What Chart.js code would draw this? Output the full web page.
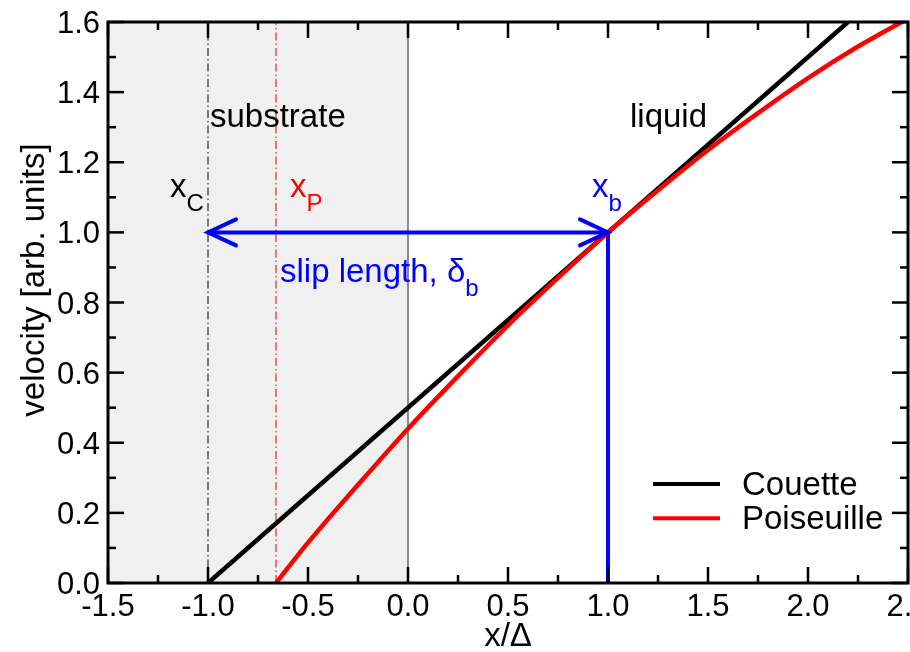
<!DOCTYPE html>
<html>
<head>
<meta charset="utf-8">
<script src="https://cdn.jsdelivr.net/npm/chart.js@4.4.0/dist/chart.umd.min.js"></script>
<style>
  html,body{margin:0;padding:0;background:#fff;}
  canvas{display:block;}
</style>
</head>
<body>
<canvas id="c" width="910" height="652"></canvas>
<script>
// --- Data ---
const couetteX = [-1.0, 2.2];
const couetteY = [0.0, 1.6];
const poisX = [-0.66, -0.5, -0.25, 0.0, 0.25, 0.5, 0.75, 1.0, 1.25, 1.5, 1.75, 2.0, 2.25, 2.5];
const poisY = [0.0, 0.115, 0.28, 0.44, 0.59, 0.735, 0.87, 1.0, 1.12, 1.235, 1.34, 1.44, 1.53, 1.61];
const xC = -1.0, xP = -0.66, xB = 1.0;   // marker positions
const slipY = 1.0;
const xTicks = [-1.5, -1.0, -0.5, 0.0, 0.5, 1.0, 1.5, 2.0, 2.5];
const xMinor = [-1.25, -0.75, -0.25, 0.25, 0.75, 1.25, 1.75, 2.25];
const yTicks = [0.0, 0.2, 0.4, 0.6, 0.8, 1.0, 1.2, 1.4, 1.6];
const yMinor = [0.1, 0.3, 0.5, 0.7, 0.9, 1.1, 1.3, 1.5];
const seriesNames = ['Couette', 'Poiseuille'];

const FONT = '"Liberation Sans", Arial, Helvetica, sans-serif';
const pts = (xs, ys) => xs.map((x, i) => ({x, y: ys[i]}));

// --- Decorations ---
const deco = {
  id: 'deco',
  beforeDatasetsDraw(chart){
    const {ctx, chartArea:a, scales:{x, y}} = chart;
    ctx.save();
    ctx.fillStyle = '#f0f0f0';
    ctx.fillRect(a.left, a.top, x.getPixelForValue(0) - a.left, a.bottom - a.top);
    ctx.strokeStyle = '#666';
    ctx.lineWidth = 1.5;
    ctx.beginPath();
    ctx.moveTo(x.getPixelForValue(0), a.top);
    ctx.lineTo(x.getPixelForValue(0), a.bottom);
    ctx.stroke();
    ctx.restore();
  },
  afterDatasetsDraw(chart){
    const {ctx, chartArea:a, scales:{x, y}} = chart;
    const X = v => x.getPixelForValue(v), Y = v => y.getPixelForValue(v);
    ctx.save();

    // arrowheads
    ctx.strokeStyle = '#0000ff';
    ctx.lineWidth = 4;
    ctx.lineCap = 'round';
    [[X(xC), 1], [X(xB), -1]].forEach(([px, d]) => {
      const py = Y(slipY);
      ctx.beginPath();
      ctx.moveTo(px + d*28, py - 13);
      ctx.lineTo(px, py);
      ctx.lineTo(px + d*28, py + 13);
      ctx.stroke();
    });
    ctx.lineCap = 'butt';

    // frame
    ctx.strokeStyle = '#000';
    ctx.lineWidth = 3;
    ctx.strokeRect(a.left, a.top, a.right - a.left, a.bottom - a.top);

    // ticks (inside, mirrored)
    ctx.lineWidth = 2.5;
    const tick = (x1, y1, x2, y2) => { ctx.beginPath(); ctx.moveTo(x1, y1); ctx.lineTo(x2, y2); ctx.stroke(); };
    xTicks.forEach(v => { const p = X(v); tick(p, a.bottom, p, a.bottom - 16); tick(p, a.top, p, a.top + 16); });
    xMinor.forEach(v => { const p = X(v); tick(p, a.bottom, p, a.bottom - 8); tick(p, a.top, p, a.top + 8); });
    yTicks.forEach(v => { const p = Y(v); tick(a.left, p, a.left + 16, p); tick(a.right, p, a.right - 16, p); });
    yMinor.forEach(v => { const p = Y(v); tick(a.left, p, a.left + 8, p); tick(a.right, p, a.right - 8, p); });

    // tick labels
    ctx.fillStyle = '#000';
    ctx.font = '31px ' + FONT;
    ctx.textBaseline = 'alphabetic';
    ctx.textAlign = 'center';
    xTicks.forEach(v => ctx.fillText(v.toFixed(1), X(v), a.bottom + 33));
    ctx.textAlign = 'right';
    yTicks.forEach(v => ctx.fillText(v.toFixed(1), a.left - 8, Y(v) + 11));

    // axis titles
    ctx.font = '33px ' + FONT;
    ctx.textAlign = 'center';
    ctx.fillText('x/\u0394', X(0.5), 646);
    ctx.save();
    ctx.translate(44, 280);
    ctx.rotate(-Math.PI/2);
    ctx.fillText('velocity [arb. units]', 0, 0);
    ctx.restore();

    // annotations
    ctx.textAlign = 'left';
    const sub = (main, s, px, py, color) => {
      ctx.fillStyle = color;
      ctx.font = '33px ' + FONT;
      ctx.fillText(main, px, py);
      const w = ctx.measureText(main).width;
      ctx.font = '24px ' + FONT;
      ctx.fillText(s, px + w, py + 14);
    };
    ctx.font = '33px ' + FONT;
    ctx.fillStyle = '#000';
    ctx.fillText('substrate', X(-0.99), Y(1.3));
    ctx.fillText('liquid', X(1.11), Y(1.3));
    sub('x', 'C', X(-1.19), Y(1.10), '#000');
    sub('x', 'P', X(-0.59), Y(1.10), '#ff0000');
    sub('x', 'b', X(0.92), Y(1.10), '#0000ff');
    sub('slip length, \u03b4', 'b', X(-0.64), Y(0.858), '#0000ff');

    // legend
    const lg = [['#000', 0.282], ['#ff0000', 0.185]];
    lg.forEach(([c, v], i) => {
      ctx.strokeStyle = c;
      ctx.lineWidth = 4;
      ctx.beginPath();
      ctx.moveTo(X(1.225), Y(v));
      ctx.lineTo(X(1.56), Y(v));
      ctx.stroke();
      ctx.fillStyle = '#000';
      ctx.font = '33px ' + FONT;
      ctx.fillText(seriesNames[i], X(1.67), Y(v) + 11);
    });
    ctx.restore();
  }
};

new Chart(document.getElementById('c'), {
  type: 'line',
  data: {
    datasets: [
      {label: seriesNames[1], data: pts(poisX, poisY), borderColor: '#ff0000', borderWidth: 4.5,
       cubicInterpolationMode: 'monotone', order: 0},
      {label: seriesNames[0], data: pts(couetteX, couetteY), borderColor: '#000', borderWidth: 4.5, order: 1},
      {label: 'slip', data: pts([xC, xB], [slipY, slipY]), borderColor: '#0000ff', borderWidth: 4, order: 2},
      {label: 'xb', data: pts([xB, xB], [0, slipY]), borderColor: '#0000ff', borderWidth: 4, order: 2},
      {label: 'xC', data: pts([xC, xC], [0, 1.6]), borderColor: '#000', borderWidth: 1,
       borderDash: [8, 3, 1.5, 3], order: 3},
      {label: 'xP', data: pts([xP, xP], [0, 1.6]), borderColor: '#dd0000', borderWidth: 1,
       borderDash: [8, 3, 1.5, 3], order: 3}
    ]
  },
  options: {
    responsive: false,
    animation: false,
    devicePixelRatio: 1,
    layout: {padding: {left: 108, right: 2, top: 22, bottom: 69}},
    elements: {point: {radius: 0}},
    plugins: {legend: {display: false}, tooltip: {enabled: false}},
    scales: {
      x: {type: 'linear', min: -1.5, max: 2.5, display: false},
      y: {type: 'linear', min: 0, max: 1.6, display: false}
    }
  },
  plugins: [deco]
});
</script>
</body>
</html>
